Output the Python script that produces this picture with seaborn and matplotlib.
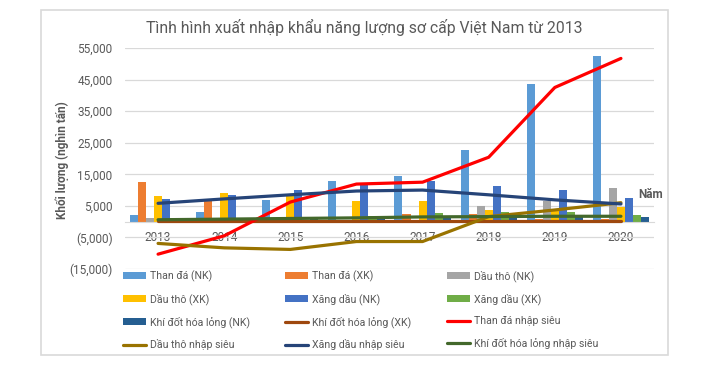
import pandas as pd
import seaborn as sns
import matplotlib.pyplot as plt
from matplotlib.patches import Patch
from matplotlib.lines import Line2D
from matplotlib.ticker import FuncFormatter

# du lieu (nghin tan)
years = ["2013", "2014", "2015", "2016", "2017", "2018", "2019", "2020"]

than_nk = [2200, 3100, 6900, 12900, 14500, 22700, 43500, 52400]
than_xk = [12600, 6600, 1000, 500, 2300, 2300, 900, 900]
dau_nk = [1100, 200, 300, 200, 300, 5000, 6500, 10700]
dau_xk = [8200, 9100, 8700, 6600, 6600, 3700, 3400, 4500]
xang_nk = [7200, 8500, 10000, 11900, 12900, 11300, 10000, 7500]
xang_xk = [1100, 500, 600, 1800, 2800, 3100, 3100, 2200]
khi_nk = [1000, 600, 1000, 1000, 1000, 1300, 1600, 1500]

khi_xk = [100, 100, 100, 100, 100, 100, 100, 100]
than_ns = [-10300, -4500, 6200, 11900, 12500, 20400, 42500, 51700]
dau_ns = [-6900, -8300, -8800, -6300, -6300, 1600, 3700, 6000]
xang_ns = [5800, 7200, 8500, 9700, 10000, 8500, 6900, 5600]
khi_ns = [600, 800, 1000, 1200, 1500, 1600, 1700, 1700]

bar_names = ["Than đá (NK)", "Than đá (XK)", "Dầu thô (NK)", "Dầu thô (XK)",
             "Xăng dầu (NK)", "Xăng dầu (XK)", "Khí đốt hóa lỏng (NK)"]
bar_vals = [than_nk, than_xk, dau_nk, dau_xk, xang_nk, xang_xk, khi_nk]
bar_colors = ["#5B9BD5", "#ED7D31", "#A5A5A5", "#FFC000", "#4472C4", "#70AD47", "#255E91"]

line_names = ["Khí đốt hóa lỏng (XK)", "Than đá nhập siêu", "Dầu thô nhập siêu",
              "Xăng dầu nhập siêu", "Khí đốt hóa lỏng nhập siêu"]
line_vals = [khi_xk, than_ns, dau_ns, xang_ns, khi_ns]
line_colors = ["#9E480E", "#FF0000", "#997300", "#264478", "#43682B"]

df_bar = pd.concat([pd.DataFrame({"year": years, "value": v, "series": n})
                    for n, v in zip(bar_names, bar_vals)], ignore_index=True)
df_line = pd.concat([pd.DataFrame({"pos": range(len(years)), "value": v, "series": n})
                     for n, v in zip(line_names, line_vals)], ignore_index=True)

sns.set_style("white")
plt.rcParams["font.family"] = ["Roboto", "DejaVu Sans"]
grey = "#595959"

fig = plt.figure(figsize=(7.11, 3.66), dpi=100)
ax = fig.add_axes([125 / 711, 1 - 269 / 366, 529 / 711, 221 / 366])

sns.barplot(data=df_bar, x="year", y="value", hue="series", hue_order=bar_names,
            palette=bar_colors, width=0.85, gap=0, saturation=1, errorbar=None,
            legend=False, ax=ax, zorder=2, edgecolor="none", linewidth=0)
sns.lineplot(data=df_line, x="pos", y="value", hue="series", hue_order=line_names,
             palette=line_colors, linewidth=2.3, legend=False, ax=ax, sort=False, zorder=3)

ax.set_xlim(-0.5, 7.5)
ax.set_ylim(-15000, 55000)
ax.set_yticks(range(-15000, 55001, 10000))
ax.yaxis.set_major_formatter(FuncFormatter(
    lambda v, p: f"{v:,.0f}" if v >= 0 else f"({-v:,.0f})"))
ax.set_xticks(range(len(years)))
ax.set_xticklabels(years)
ax.set_xlabel("")
ax.set_ylabel("")
ax.grid(axis="y", color="#D9D9D9", linewidth=0.9, zorder=0)
ax.set_axisbelow(True)
for s in ["top", "right", "left"]:
    ax.spines[s].set_visible(False)
ax.spines["bottom"].set_position(("data", 0))
ax.spines["bottom"].set_color("#D9D9D9")
ax.tick_params(axis="both", length=0, colors=grey, labelsize=8.5)
ax.tick_params(axis="y", pad=9)
ax.tick_params(axis="x", pad=7)

fig.text(364 / 711, 1 - 27 / 366, "Tình hình xuất nhập khẩu năng lượng sơ cấp Việt Nam từ 2013",
         ha="center", va="center", fontsize=11.3, color=grey)
fig.text(62 / 711, 1 - 160 / 366, "Khối lượng (nghìn tấn)", rotation=90,
         ha="center", va="center", fontsize=8.5, fontweight="bold", color=grey)
fig.text(651 / 711, 1 - 194 / 366, "Năm", ha="center", va="center",
         fontsize=8.5, fontweight="bold", color=grey)

# chu giai: 3 cot
handles = [Patch(facecolor=c, edgecolor="none") for c in bar_colors]
handles += [Line2D([], [], color=c, linewidth=2.3) for c in line_colors]
labels = bar_names + line_names
col_x = [123, 285, 447]
for c in range(3):
    fig.legend(handles[c::3], labels[c::3], loc="upper left",
               bbox_to_anchor=(col_x[c] / 711, 1 - 270 / 366), frameon=False,
               fontsize=7.6, labelcolor=grey, handlelength=2.2, handleheight=0.7,
               handletextpad=0.35, labelspacing=1.1, borderaxespad=0, borderpad=0)

fig.patches.append(plt.Rectangle((41 / 711, 1 - 355 / 366), 627 / 711, 345 / 366,
                                 transform=fig.transFigure, fill=False,
                                 edgecolor="#D9D9D9", linewidth=1.2))

fig.savefig("out.png", dpi=100)
